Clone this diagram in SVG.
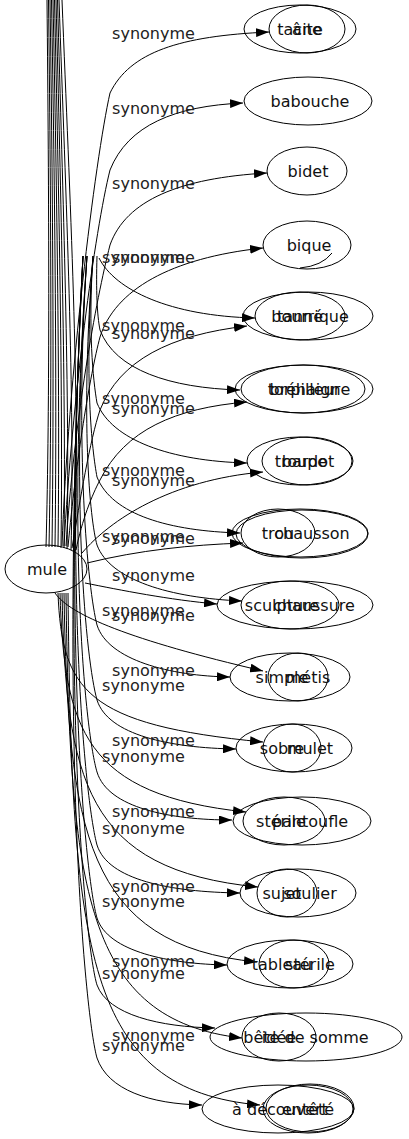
<svg xmlns="http://www.w3.org/2000/svg" width="409" height="1139" viewBox="0 0 409 1139">
<style>
.e{fill:none;stroke:#000;stroke-width:1;marker-end:url(#ah)}
.b{fill:none;stroke:#000;stroke-width:1}
.n{fill:none;stroke:#000;stroke-width:1}
text{font-family:"DejaVu Sans",Verdana,sans-serif;font-size:16px;fill:#111;text-anchor:middle}
.la{fill:#222}
</style>
<defs>
<marker id="ah" markerWidth="13" markerHeight="9" refX="13" refY="4.5" orient="auto" markerUnits="userSpaceOnUse"><path d="M0,0 L13,4.5 L0,9 z" fill="#000"/></marker>
</defs>
<rect width="409" height="1139" fill="#fff"/>
<g id="edges">
<path class="b" d="M47,0 C49,200 50,400 46,547"/>
<path class="b" d="M48.5,0 C51,200 52,400 49,547"/>
<path class="b" d="M50,0 C53,200 54,400 52,547"/>
<path class="b" d="M51.5,0 C55,200 57,400 55,547"/>
<path class="b" d="M53,0 C57,200 60,400 58,547"/>
<path class="b" d="M54.5,0 C59,200 63,400 61,548"/>
<path class="b" d="M56,0 C61,200 66,400 64,548"/>
<path class="b" d="M57.5,0 C63,200 70,400 67,549"/>
<path class="b" d="M59,0 C66,200 75,400 71,550"/>
<path class="b" d="M62,0 C70,200 80,400 75,551"/>
<path class="e" d="M62,546 C68,380 95,160 110,93 C130,52 180,36 269,32"/>
<path class="e" d="M64,546 C72,400 95,230 110,170 C128,125 175,106 243,103"/>
<path class="e" d="M66,546 C74,420 96,300 110,245 C126,200 180,178 267,173"/>
<path class="e" d="M68,547 C76,460 90,375 100,337 C115,290 170,258 263,248"/>
<path class="e" d="M72,548 C80,500 90,440 100,410 C120,360 170,335 247,326"/>
<path class="e" d="M76,550 C82,520 92,495 100,480 C125,430 175,408 247,402"/>
<path class="e" d="M82,553 C110,520 170,480 263,472"/>
<path class="e" d="M87,563 C140,550 190,545 243,543"/>
<path class="e" d="M85,583 C120,590 170,600 217,604"/>
<path class="e" d="M55,593 C70,615 130,640 263,671"/>
<path class="e" d="M58,593 C62,690 85,725 263,742"/>
<path class="e" d="M60,593 C64,730 85,795 246,812"/>
<path class="e" d="M62,593 C66,780 85,870 258,887"/>
<path class="e" d="M64,593 C68,830 85,945 257,962"/>
<path class="e" d="M66,593 C70,890 85,1020 242,1038"/>
<path class="e" d="M68,593 C72,950 85,1090 260,1105"/>
<path class="e" d="M99,258 C115,290 170,316 255,318"/>
<path class="e" d="M97,256 C96,290 97,315 100,330 C115,370 170,388 240,390"/>
<path class="e" d="M93,256 C88,330 93,380 97,403 C112,440 170,461 247,463"/>
<path class="e" d="M93,256 C84,380 92,450 97,477 C112,515 170,531 240,533"/>
<path class="e" d="M93,256 C80,420 90,520 97,545 C110,580 170,598 242,601"/>
<path class="e" d="M87,256 C74,450 88,590 97,625 C108,660 170,676 230,677"/>
<path class="e" d="M87,256 C70,500 86,660 97,700 C108,735 170,748 236,749"/>
<path class="e" d="M87,256 C66,550 86,735 97,772 C108,808 170,820 232,820"/>
<path class="e" d="M83,256 C64,600 86,805 97,845 C108,880 170,892 240,893"/>
<path class="e" d="M83,256 C62,650 86,880 97,918 C108,952 170,964 227,965"/>
<path class="e" d="M83,256 C60,700 86,950 97,985 C108,1015 160,1027 215,1028"/>
<path class="e" d="M83,256 C58,750 86,1020 97,1058 C108,1090 150,1104 202,1105"/>
<text class="la" x="153.5" y="39">synonyme</text>
<text class="la" x="153.5" y="114">synonyme</text>
<text class="la" x="153.5" y="189">synonyme</text>
<text class="la" x="153.5" y="263">synonyme</text>
<text class="la" x="153.5" y="339">synonyme</text>
<text class="la" x="153.5" y="414">synonyme</text>
<text class="la" x="153.5" y="486">synonyme</text>
<text class="la" x="153.5" y="544">synonyme</text>
<text class="la" x="153.5" y="581">synonyme</text>
<text class="la" x="153.5" y="621">synonyme</text>
<text class="la" x="153.5" y="676">synonyme</text>
<text class="la" x="153.5" y="746">synonyme</text>
<text class="la" x="153.5" y="817">synonyme</text>
<text class="la" x="153.5" y="892">synonyme</text>
<text class="la" x="153.5" y="967">synonyme</text>
<text class="la" x="153.5" y="1041">synonyme</text>
<text class="la" x="143.5" y="263">synonyme</text>
<text class="la" x="143.5" y="331">synonyme</text>
<text class="la" x="143.5" y="404">synonyme</text>
<text class="la" x="143.5" y="476">synonyme</text>
<text class="la" x="143.5" y="542">synonyme</text>
<text class="la" x="143.5" y="616">synonyme</text>
<text class="la" x="143.5" y="691">synonyme</text>
<text class="la" x="143.5" y="762">synonyme</text>
<text class="la" x="143.5" y="834">synonyme</text>
<text class="la" x="143.5" y="907">synonyme</text>
<text class="la" x="143.5" y="979">synonyme</text>
<text class="la" x="143.5" y="1051">synonyme</text>
</g>
<g id="mule"><ellipse class="n" cx="46" cy="569" rx="41" ry="24"/><text x="47" y="575">mule</text></g>
<g id="n1"><ellipse class="n" cx="300" cy="29" rx="56" ry="24"/><text x="300" y="35">tacite</text></g>
<g id="n1b"><ellipse class="n" cx="307" cy="29" rx="38" ry="24"/><text x="307" y="35">âne</text></g>
<g id="n2"><ellipse class="n" cx="308" cy="101" rx="64" ry="24"/><text x="310" y="107">babouche</text></g>
<g id="n3"><ellipse class="n" cx="307" cy="171" rx="40" ry="24"/><text x="308" y="177">bidet</text></g>
<g id="n4"><ellipse class="n" cx="307" cy="245" rx="44" ry="24"/><path class="n" d="M300,268 Q322,266 332,253"/><text x="309" y="251">bique</text></g>
<g id="n5"><ellipse class="n" cx="308" cy="316" rx="65" ry="24"/><text x="310" y="322">bourrique</text></g>
<g id="n5b"><ellipse class="n" cx="300" cy="316" rx="45" ry="24"/><text x="300" y="322">tanné</text></g>
<g id="n6"><ellipse class="n" cx="304" cy="389" rx="69" ry="24"/><text x="310" y="395">bréhaigne</text></g>
<g id="n6b"><ellipse class="n" cx="303" cy="389" rx="62" ry="24"/><text x="304" y="395">torpilleur</text></g>
<g id="n7"><ellipse class="n" cx="307" cy="461" rx="45" ry="24"/><text x="308" y="467">bardot</text></g>
<g id="n7b"><ellipse class="n" cx="300" cy="461" rx="53" ry="24"/><text x="301" y="467">troupe</text></g>
<g id="n8"><ellipse class="n" cx="300" cy="533" rx="68" ry="24"/><ellipse class="n" cx="302" cy="534" rx="66" ry="24"/><text x="312" y="539">chausson</text></g>
<g id="n8b"><ellipse class="n" cx="278" cy="533" rx="37" ry="24"/><text x="278" y="539">trou</text></g>
<g id="n9"><ellipse class="n" cx="295" cy="605" rx="78" ry="24"/><text x="314" y="611">chaussure</text></g>
<g id="n9b"><ellipse class="n" cx="290" cy="605" rx="49" ry="24"/><text x="282" y="611">sculpture</text></g>
<g id="n10"><ellipse class="n" cx="290" cy="677" rx="60" ry="24"/><text x="282" y="683">simple</text></g>
<g id="n10b"><ellipse class="n" cx="298" cy="677" rx="30" ry="24"/><text x="308" y="683">métis</text></g>
<g id="n11"><ellipse class="n" cx="294" cy="748" rx="58" ry="24"/><text x="282" y="754">sobre</text></g>
<g id="n11b"><ellipse class="n" cx="292" cy="748" rx="29" ry="24"/><text x="310" y="754">mulet</text></g>
<g id="n12"><ellipse class="n" cx="302" cy="821" rx="69" ry="24"/><text x="310" y="827">pantoufle</text></g>
<g id="n12b"><ellipse class="n" cx="284" cy="821" rx="41" ry="24"/><text x="281" y="827">stérile</text></g>
<g id="n13"><ellipse class="n" cx="298" cy="893" rx="58" ry="24"/><text x="310" y="899">soulier</text></g>
<g id="n13b"><ellipse class="n" cx="287" cy="893" rx="30" ry="24"/><text x="282" y="899">sujet</text></g>
<g id="n14"><ellipse class="n" cx="290" cy="964" rx="63" ry="24"/><text x="282" y="970">tableau</text></g>
<g id="n14b"><ellipse class="n" cx="294" cy="964" rx="35" ry="24"/><text x="310" y="970">stérile</text></g>
<g id="n15"><ellipse class="n" cx="306" cy="1037" rx="96" ry="24"/><text x="306" y="1043">bête de somme</text></g>
<g id="n15b"><ellipse class="n" cx="279" cy="1037" rx="37" ry="24"/><text x="279" y="1043">idée</text></g>
<g id="n16"><ellipse class="n" cx="278" cy="1109" rx="76" ry="24"/><text x="280" y="1115">à découvert</text></g>
<g id="n16b"><ellipse class="n" cx="308" cy="1109" rx="45" ry="24"/><ellipse class="n" cx="310" cy="1108" rx="44" ry="24"/><text x="308" y="1115">entêté</text></g>
</svg>
